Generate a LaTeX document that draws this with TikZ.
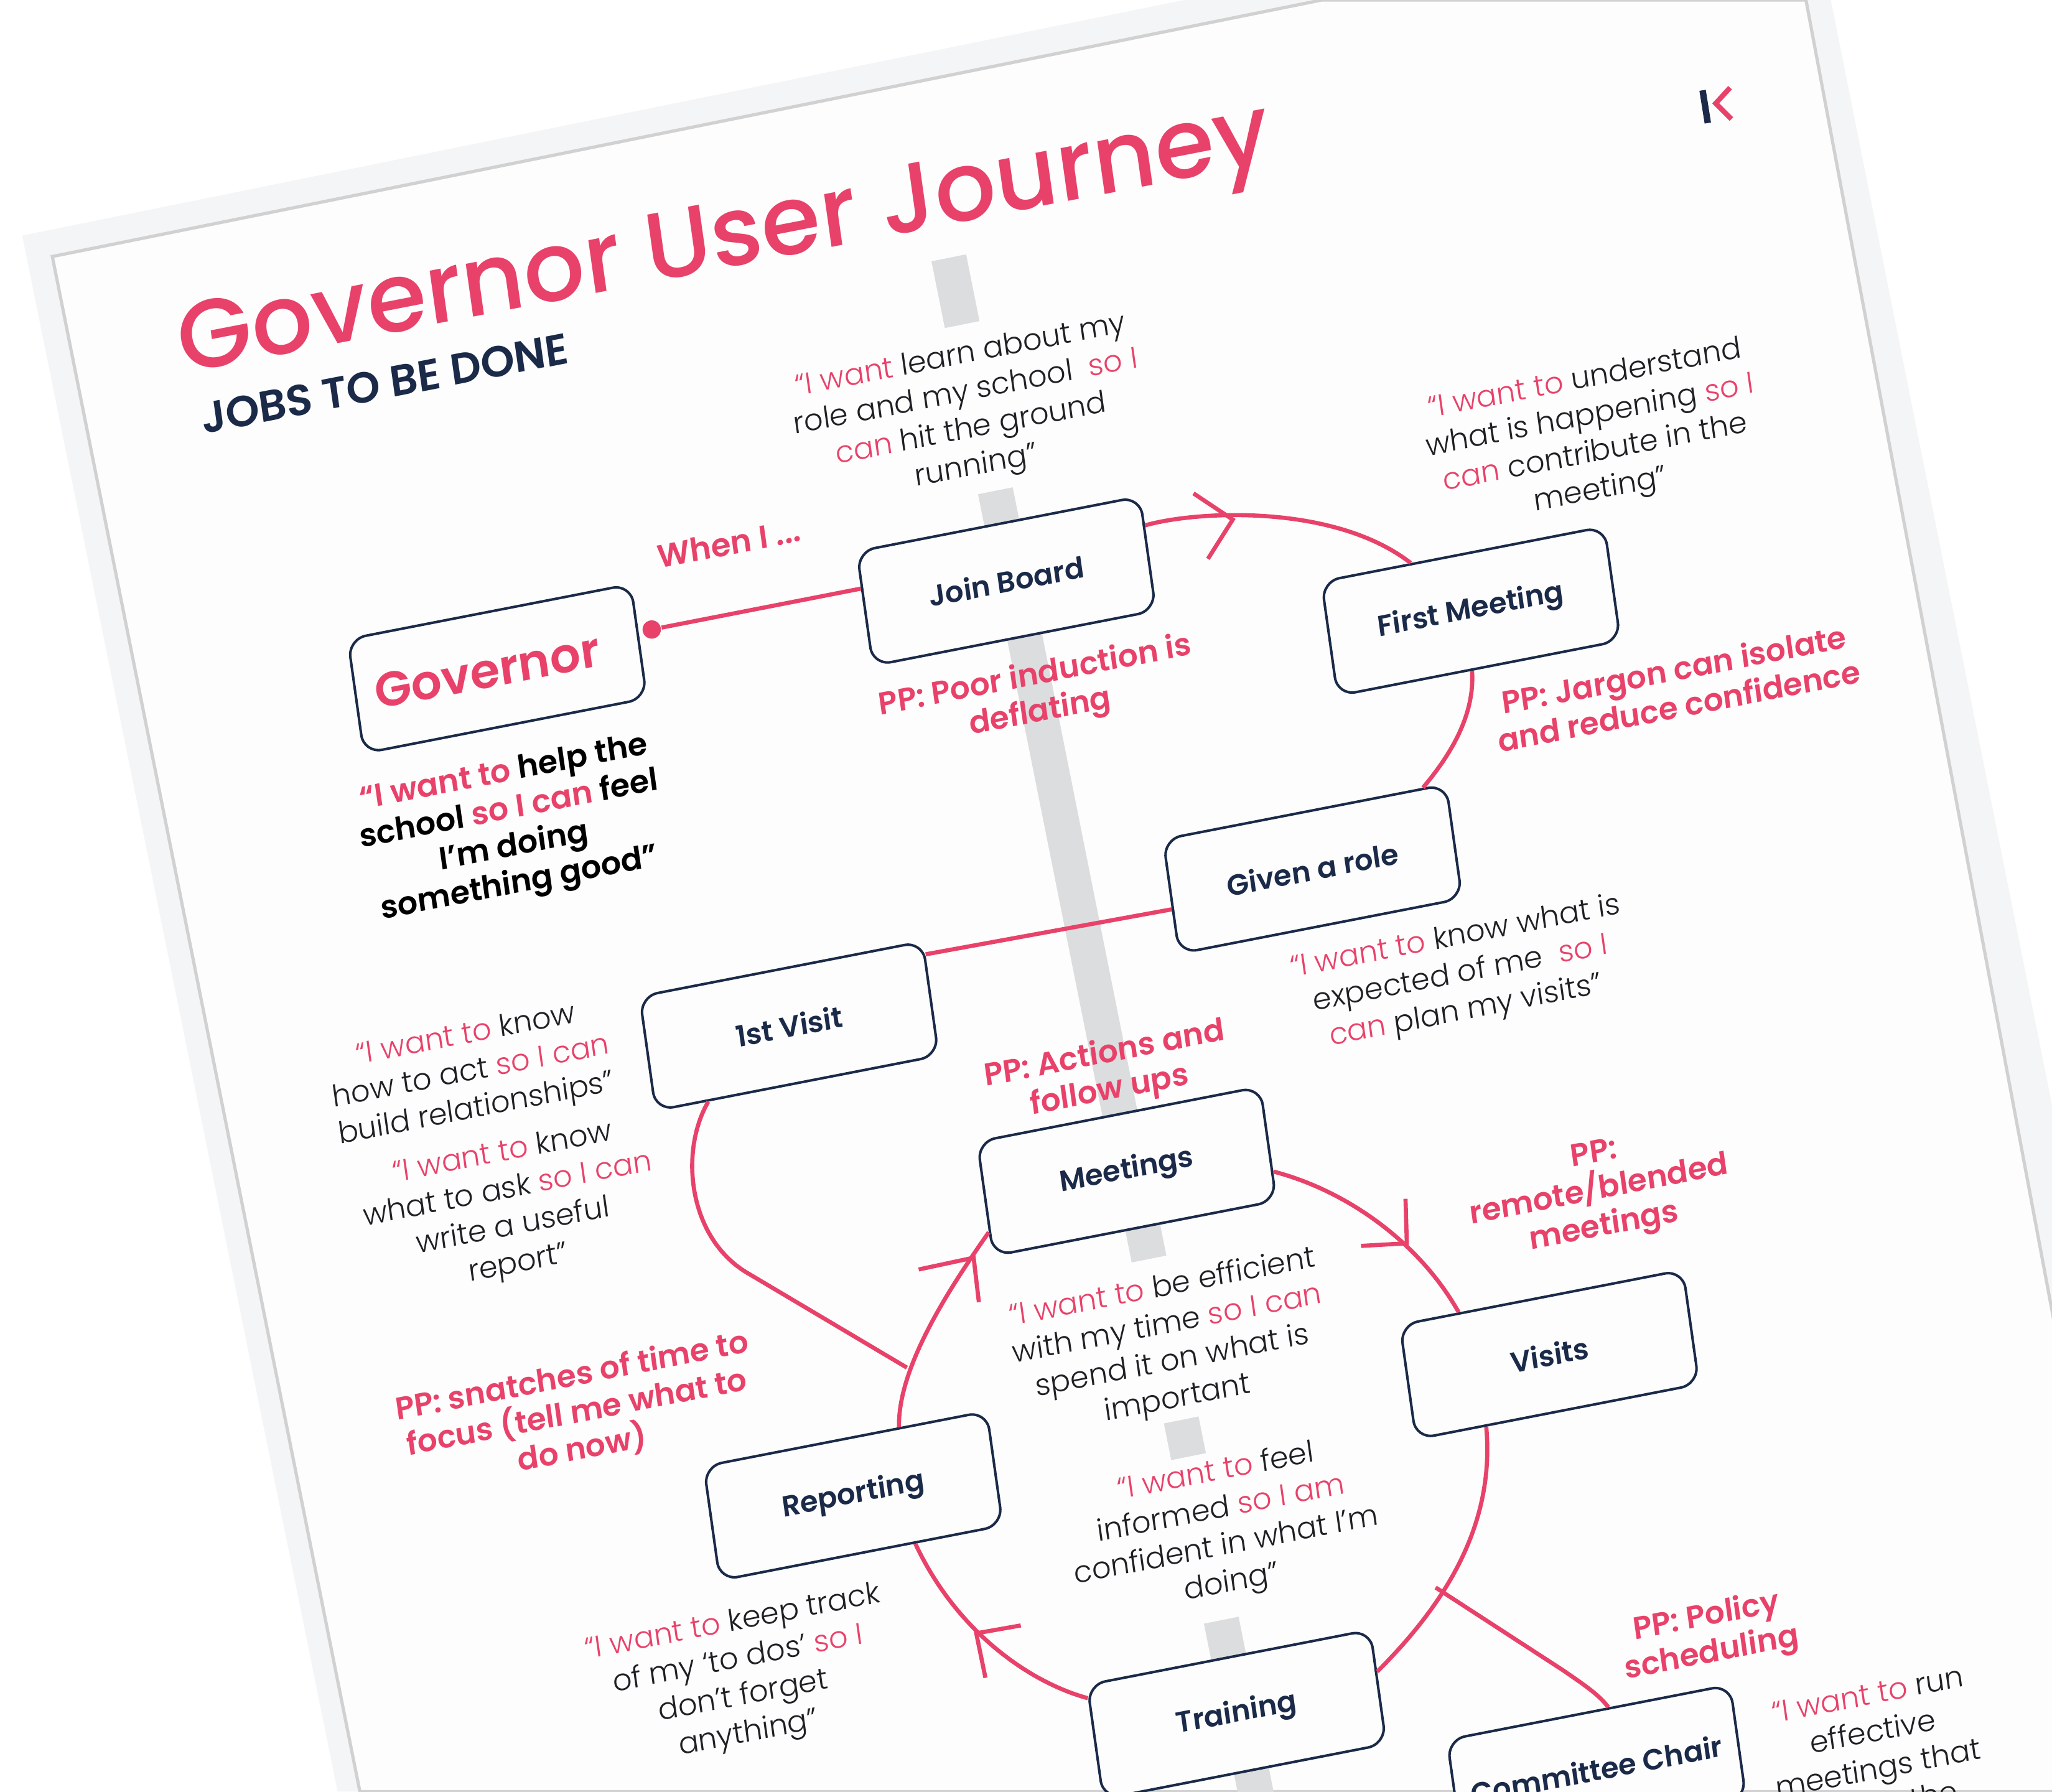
\documentclass[tikz,border=0pt]{standalone}
\usepackage{fontspec}
\setmainfont{Poppins}[UprightFont=* Light,BoldFont=* SemiBold]
\newfontfamily\titlefont{Poppins Medium}
\definecolor{jobred}{HTML}{E8426A}
\definecolor{jobnavy}{HTML}{1A2A48}
\definecolor{jobbar}{HTML}{DCDDDF}
\definecolor{jobink}{HTML}{1E2024}
\definecolor{jobpage}{HTML}{FDFDFD}
\definecolor{jobshade}{HTML}{F4F5F6}
\newcommand{\rd}[1]{\textcolor{jobred}{#1}}
\tikzset{
    tilt/.style={cm={0.982,0.191,-0.139,0.990,(0,0)}},
    stepbox/.style={tilt,draw=jobnavy,line width=0.55pt,rounded corners=4pt,fill=jobpage,minimum width=2.2cm,minimum height=0.88cm,text=jobnavy,font=\bfseries\fontsize{6.3}{7.5}\selectfont},
    quote/.style={tilt,align=center,text=jobink,font=\fontsize{6.5}{8.1}\selectfont},
    pain/.style={tilt,align=center,text=jobred,font=\bfseries\fontsize{6.8}{8}\selectfont},
    loopline/.style={draw=jobred,line width=0.9pt},
}
\begin{document}
\begin{tikzpicture}[x=0.01cm,y=-0.01cm]
    \useasboundingbox (0,0) rectangle (1568,1369);
    \clip (0,0) rectangle (1568,1369);
    \fill[white] (0,0) rectangle (1568,1369);
    \fill[jobshade] (17,180) -- (905,0) -- (1399,0) -- (1673,1369) -- (258,1369) -- cycle;
    \draw[fill=jobpage,draw=black!18,line width=0.7pt] (40,196) -- (1010,0) -- (1380,0) -- (1637,1369) -- (275,1369) -- cycle;
    \foreach \ya/\yb in {197/248,375/400,480/860,880/962,1085/1113,1238/1270,1345/1380}
        \draw[jobbar,line width=0.27cm] ({730+0.2*(\ya-222)},\ya) -- ({730+0.2*(\yb-222)},\yb);

    \node[tilt,text=jobred,font=\titlefont\fontsize{21}{25}\selectfont] (title) at (554,188) {Governor User Journey};
    \node[tilt,text=jobnavy,font=\bfseries\fontsize{9.4}{11}\selectfont] (subtitle) at (294,293) {JOBS TO BE DONE};
    \draw[jobnavy,line width=1.4pt] (1301,69) -- (1305,94);
    \draw[jobred,line width=1.1pt] (1322,67) -- (1311,79) -- (1323,91);

    \node[stepbox,text=jobred,font=\bfseries\fontsize{10.5}{12}\selectfont] (gov) at (380,511) {Governor\kern0.16cm};
    \node[stepbox] (join) at (769,444) {Join Board};
    \node[stepbox] (first) at (1124,467) {First Meeting};
    \node[stepbox] (given) at (1003,664) {Given a role};
    \node[stepbox] (visit) at (603,784) {1st Visit};
    \node[stepbox] (meet) at (861,895) {Meetings};
    \node[stepbox] (visits) at (1184,1035) {Visits};
    \node[stepbox] (rep) at (652,1143) {Reporting};
    \node[stepbox] (train) at (945,1310) {Training};
    \node[stepbox] (chair) at (1220,1352) {Committee Chair};

    \node[circle,fill=jobred,inner sep=0pt,minimum size=0.14cm] (govdot) at (498,481) {};
    \coordinate (snakeend) at (693,1045);
    \coordinate (chairstart) at (1097,1213);
    \coordinate (tipa) at (942,397);
    \coordinate (tipb) at (1075,950);
    \coordinate (tipc) at (744,961);
    \coordinate (tipd) at (746,1248);

    \draw[loopline] (govdot) -- (join.172);
    \draw[loopline] (join.11) .. controls (915,390) and (1020,385) .. (first.132);
    \draw[loopline] (first.263) .. controls (1127,545) and (1110,575) .. (given.26);
    \draw[loopline] (given.185) -- (visit.17);
    \draw[loopline] (visit.213) .. controls (519,880) and (526,945) .. (570,972) -- (snakeend);
    \draw[loopline] (meet.349) .. controls (1030,910) and (1085,950) .. (visits.145);
    \draw[loopline] (visits.219) .. controls (1142,1160) and (1110,1220) .. (train.6);
    \draw[loopline] (train.163) .. controls (785,1285) and (730,1245) .. (rep.313);
    \draw[loopline] (rep.47) .. controls (686,1045) and (725,985) .. (meet.193);
    \draw[loopline] (chairstart) -- (1194,1276) .. controls (1210,1287) and (1222,1295) .. (chair.71);

    \draw[loopline] (tipa) ++(-30,-20) -- (tipa) -- ++(-19,30);
    \draw[loopline] (tipb) ++(-1,-34) -- (tipb) -- ++(-35,2);
    \draw[loopline] (tipc) ++(-42,9) -- (tipc) -- ++(4,34);
    \draw[loopline] (tipd) ++(34,-6) -- (tipd) -- ++(7,34);

    \node[tilt,text=jobred,font=\bfseries\fontsize{7}{8}\selectfont] (when) at (557,415) {When I ...};
    \node[quote] (qjoin) at (740,315) {\rd{“I want} learn about my\\role and my school \ \rd{so I}\\\rd{can} hit the ground\\running”};
    \node[quote] (qfirst) at (1217,333) {\rd{“I want to} understand\\what is happening \rd{so I}\\\rd{can} contribute in the\\meeting”};
    \node[quote,text=black,font=\bfseries\fontsize{6.9}{8.1}\selectfont] (qgov) at (391,634) {\rd{“I want to} help the\\school \rd{so I can} feel\\I’m doing\\something good”};
    \node[pain] (ppjoin) at (793,531) {PP: Poor induction is\\deflating};
    \node[pain] (ppfirst) at (1281,525) {PP: Jargon can isolate\\and reduce confidence};
    \node[quote] (qgiven) at (1116,745) {\rd{“I want to} know what is\\expected of me \ \rd{so I}\\\rd{can} plan my visits”};
    \node[quote] (qvisita) at (360,820) {\rd{“I want to} know\\how to act \rd{so I can}\\build relationships”};
    \node[quote] (qvisitb) at (390,924) {\rd{“I want to} know\\what to ask \rd{so I can}\\write a useful\\report”};
    \node[pain] (ppmeet) at (846,820) {PP: Actions and\\follow ups};
    \node[pain] (ppvisits) at (1222,911) {PP:\\remote/blended\\meetings};
    \node[quote] (qmeet) at (894,1027) {\rd{“I want to} be efficient\\with my time \rd{so I can}\\spend it on what is\\important};
    \node[pain] (pprep) at (441,1080) {PP: snatches of time to\\focus (tell me what to\\do now)};
    \node[quote] (qtrain) at (935,1168) {\rd{“I want to} feel\\informed \rd{so I am}\\confident in what I’m\\doing”};
    \node[quote] (qrep) at (566,1283) {\rd{“I want to} keep track\\of my ‘to dos’ \rd{so I}\\don’t forget\\anything”};
    \node[pain] (ppchair) at (1306,1250) {PP: Policy\\scheduling};
    \node[quote] (qchair) at (1433,1337) {\rd{“I want to} run\\effective\\meetings that\\run on the};
\end{tikzpicture}
\end{document}
